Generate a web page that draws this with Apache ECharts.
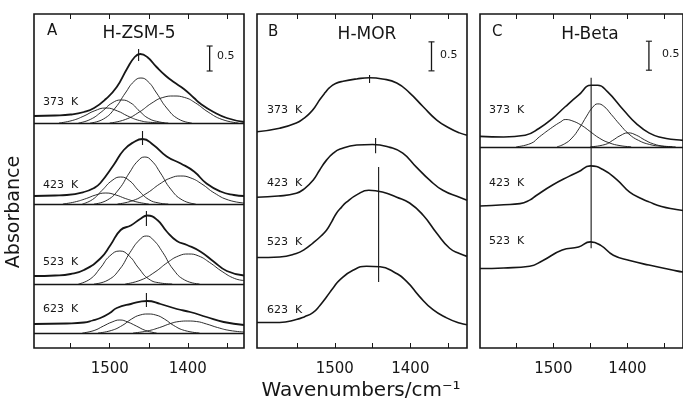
<!DOCTYPE html>
<html><head><meta charset="utf-8">
<script src="https://cdn.jsdelivr.net/npm/echarts@6/dist/echarts.min.js"></script>
<style>html,body{margin:0;padding:0;background:#fff}#c{width:683px;height:401px}</style>
</head><body><div id="c"></div>
<script>
// ---- shared axis values ----
const tickValues = [1350, 1400, 1450, 1500, 1550];
const tickLabelValues = [1400, 1500];
const xTitle = 'Wavenumbers/cm⁻¹';
const yTitle = 'Absorbance';

// ---- Panel A : H-ZSM-5 ----
const titleA = 'H-ZSM-5';
const tempsA = ['373  K', '423  K', '523  K', '623  K'];
const offsetsA = [4.5, 2.88, 1.28, 0.30];
const envA373 = [[1597,0.14],[1570,0.15],[1550,0.17],[1533,0.22],[1520,0.30],[1505,0.48],[1491,0.72],[1478,1.08],[1468,1.32],[1461,1.38],[1452,1.32],[1440,1.12],[1428,0.94],[1418,0.82],[1405,0.68],[1392,0.50],[1384,0.39],[1367,0.22],[1350,0.10],[1328,0.02]];
const envA423 = [[1597,0.16],[1570,0.17],[1555,0.18],[1533,0.24],[1520,0.32],[1512,0.42],[1495,0.78],[1482,1.08],[1469,1.24],[1458,1.30],[1444,1.18],[1427,0.95],[1409,0.81],[1392,0.65],[1376,0.41],[1358,0.25],[1341,0.18],[1328,0.16]];
const envA523 = [[1597,0.16],[1570,0.17],[1550,0.20],[1533,0.28],[1512,0.51],[1499,0.78],[1486,1.08],[1473,1.17],[1461,1.30],[1452,1.37],[1439,1.28],[1427,1.05],[1414,0.86],[1401,0.78],[1384,0.65],[1367,0.45],[1350,0.26],[1328,0.17]];
const envA623 = [[1597,0.18],[1555,0.19],[1533,0.21],[1522,0.25],[1512,0.30],[1500,0.40],[1491,0.50],[1473,0.58],[1452,0.64],[1435,0.58],[1414,0.48],[1397,0.42],[1376,0.32],[1354,0.22],[1328,0.16]];
const compA373 = [
  [[1565,0],[1548,0.05],[1533,0.14],[1520,0.24],[1505,0.30],[1490,0.24],[1477,0.14],[1462,0.05],[1445,0.01],[1430,0]],
  [[1540,0],[1525,0.07],[1510,0.23],[1497,0.40],[1485,0.46],[1473,0.40],[1462,0.24],[1450,0.09],[1436,0.02],[1425,0]],
  [[1525,0],[1508,0.08],[1493,0.30],[1480,0.60],[1469,0.83],[1460,0.90],[1451,0.83],[1440,0.60],[1427,0.30],[1412,0.08],[1395,0]],
  [[1500,0],[1480,0.07],[1462,0.22],[1446,0.40],[1432,0.51],[1418,0.54],[1404,0.51],[1390,0.40],[1374,0.22],[1356,0.07],[1335,0]]
];
const compA423 = [
  [[1560,0],[1545,0.04],[1530,0.11],[1518,0.18],[1505,0.22],[1492,0.18],[1480,0.11],[1465,0.04],[1450,0]],
  [[1535,0],[1522,0.09],[1510,0.27],[1497,0.47],[1486,0.54],[1475,0.47],[1463,0.27],[1450,0.09],[1437,0.02],[1425,0]],
  [[1520,0],[1503,0.08],[1488,0.30],[1475,0.62],[1464,0.86],[1455,0.94],[1446,0.86],[1435,0.62],[1422,0.30],[1407,0.08],[1390,0]],
  [[1490,0],[1470,0.07],[1452,0.22],[1436,0.40],[1422,0.52],[1409,0.56],[1396,0.52],[1382,0.40],[1366,0.22],[1348,0.08],[1328,0.02]]
];
const compA523 = [
  [[1540,0],[1525,0.10],[1512,0.32],[1500,0.56],[1487,0.66],[1475,0.56],[1463,0.32],[1450,0.10],[1435,0.02],[1420,0]],
  [[1520,0],[1502,0.08],[1487,0.30],[1474,0.63],[1462,0.88],[1453,0.96],[1444,0.88],[1432,0.63],[1419,0.30],[1404,0.08],[1385,0]],
  [[1480,0],[1460,0.08],[1442,0.24],[1426,0.43],[1412,0.56],[1399,0.60],[1386,0.56],[1372,0.43],[1356,0.25],[1340,0.11],[1328,0.07]]
];
const compA623 = [
  [[1535,0],[1520,0.05],[1508,0.14],[1497,0.22],[1487,0.26],[1477,0.22],[1466,0.14],[1454,0.05],[1440,0]],
  [[1515,0],[1498,0.05],[1484,0.15],[1472,0.28],[1461,0.36],[1451,0.38],[1441,0.36],[1430,0.28],[1418,0.15],[1404,0.05],[1385,0]],
  [[1470,0],[1452,0.04],[1436,0.11],[1422,0.19],[1411,0.23],[1400,0.24],[1389,0.23],[1376,0.18],[1362,0.11],[1346,0.05],[1328,0.02]]
];
const peaksA = [[1463,5.74,5.98],[1458,4.06,4.34],[1453,2.44,2.74],[1453,0.82,1.10]];
const scaleBarA = [1372, 5.54, 6.04];

// ---- Panel B : H-MOR ----
const titleB = 'H-MOR';
const tempsB = ['373  K', '423  K', '523  K', '623  K'];
const offsetsB = [3.73, 2.60, 1.56, 0.44];
const specB373 = [[1603,0],[1573,0.06],[1551,0.15],[1540,0.24],[1533,0.32],[1526,0.43],[1520,0.55],[1513,0.67],[1507,0.76],[1499,0.83],[1489,0.87],[1471,0.91],[1454,0.93],[1437,0.91],[1418,0.84],[1401,0.67],[1383,0.43],[1365,0.20],[1348,0.06],[1335,-0.02],[1325,-0.06]];
const specB423 = [[1603,0],[1575,0.02],[1551,0.07],[1540,0.15],[1529,0.29],[1520,0.47],[1511,0.64],[1502,0.76],[1493,0.83],[1471,0.90],[1450,0.91],[1427,0.86],[1410,0.76],[1392,0.52],[1374,0.29],[1357,0.12],[1335,0],[1325,-0.05]];
const specB523 = [[1603,0],[1573,0.01],[1551,0.07],[1540,0.14],[1529,0.25],[1520,0.35],[1511,0.47],[1504,0.62],[1498,0.76],[1491,0.87],[1485,0.95],[1470,1.09],[1455,1.16],[1437,1.13],[1418,1.04],[1401,0.94],[1383,0.73],[1365,0.42],[1348,0.16],[1335,0.07],[1325,0.02]];
const specB623 = [[1603,0],[1573,0],[1551,0.05],[1540,0.10],[1529,0.17],[1520,0.29],[1511,0.44],[1502,0.60],[1493,0.74],[1476,0.90],[1458,0.97],[1440,0.96],[1423,0.88],[1405,0.71],[1388,0.45],[1370,0.22],[1352,0.08],[1335,-0.01],[1325,-0.04]];
const peaksB = [[1454,4.57,4.71],[1446,3.36,3.62],[1442,1.14,3.12]];
const scaleBarB = [1372, 4.78, 5.28];

// ---- Panel C : H-Beta ----
const titleC = 'H-Beta';
const tempsC = ['373  K', '423  K', '523  K'];
const offsetsC = [3.47, 2.45, 1.37];
const specC373 = [[1599,0.18],[1567,0.17],[1538,0.20],[1519,0.32],[1501,0.49],[1484,0.69],[1466,0.89],[1449,1.06],[1440,1.06],[1427,0.95],[1405,0.63],[1388,0.40],[1371,0.24],[1354,0.16],[1334,0.12],[1325,0.11]];
const specC423 = [[1599,0],[1567,0.02],[1545,0.04],[1532,0.10],[1523,0.18],[1501,0.36],[1479,0.51],[1466,0.59],[1450,0.69],[1432,0.62],[1414,0.45],[1397,0.24],[1380,0.12],[1371,0.07],[1354,-0.01],[1334,-0.06],[1325,-0.08]];
const specC523 = [[1599,0],[1567,0.01],[1532,0.04],[1514,0.14],[1488,0.32],[1466,0.37],[1450,0.46],[1436,0.40],[1419,0.23],[1397,0.14],[1371,0.06],[1334,-0.04],[1325,-0.06]];
const compC373 = [
  [[1550,0],[1530,0.06],[1519,0.17],[1501,0.34],[1490,0.43],[1484,0.47],[1475,0.45],[1462,0.37],[1450,0.26],[1438,0.15],[1425,0.07],[1410,0.02],[1395,0]],
  [[1495,0],[1485,0.05],[1475,0.15],[1465,0.32],[1455,0.53],[1447,0.68],[1440,0.74],[1432,0.70],[1422,0.56],[1410,0.38],[1398,0.22],[1385,0.11],[1370,0.04],[1355,0.01],[1340,0]],
  [[1450,0],[1430,0.04],[1420,0.11],[1410,0.19],[1399,0.24],[1388,0.20],[1377,0.12],[1365,0.05],[1350,0.01],[1335,0]]
];
const peaksC = [[1449,1.72,4.66]];
const scaleBarC = [1371, 4.79, 5.29];

// ---------------- build ----------------
const INK = '#161616';
const FONT = '"DejaVu Sans", "Liberation Sans", sans-serif';
const panels = [
  {left:34, xmin:1328, xmax:1597, ymax:6.68},
  {left:257, xmin:1325, xmax:1603, ymax:5.76},
  {left:480, xmin:1325, xmax:1599, ymax:5.76}
];
const grid = [], xAxis = [], yAxis = [], series = [];
panels.forEach((p, g) => {
  grid.push({left:p.left, top:14, width:210, height:334, show:true, borderColor:INK, borderWidth:1.6, backgroundColor:'transparent'});
  ['bottom','top'].forEach(pos => xAxis.push({
    gridIndex:g, type:'value', inverse:true, min:p.xmin, max:p.xmax, position:pos,
    axisLine:{show:false}, splitLine:{show:false},
    axisTick:{show:true, inside:true, length:5, customValues:tickValues, lineStyle:{color:INK, width:1}},
    axisLabel:{show:pos==='bottom', customValues:tickLabelValues, formatter:v => String(v),
      fontSize:15, color:INK, margin:14, fontFamily:FONT}
  }));
  yAxis.push({gridIndex:g, type:'value', min:0, max:p.ymax, show:false});
});
function shift(arr, off){ return arr.map(q => [q[0], Math.round((q[1]+off)*1000)/1000]); }
function ln(g, data, w, extra){
  return Object.assign({type:'line', xAxisIndex:2*g, yAxisIndex:g, data, symbol:'none', showSymbol:false,
    smooth:0.5, lineStyle:{color:INK, width:w}, silent:true, z:3}, extra||{});
}
function baseLine(off){
  return {silent:true, symbol:['none','none'], label:{show:false}, animation:false,
    lineStyle:{color:INK, width:1.3, type:'solid'}, data:[{yAxis:off}]};
}
function seg(g, pk, w){ return ln(g, [[pk[0],pk[1]],[pk[0],pk[2]]], w, {smooth:false}); }
function scaleBar(g, b){
  series.push(seg(g, b, 1.3));
  series.push({type:'scatter', xAxisIndex:2*g, yAxisIndex:g, data:[[b[0],b[1]],[b[0],b[2]]], symbol:'rect',
    symbolSize:[6,1.4], itemStyle:{color:INK}, silent:true});
}
// Panel A
[envA373, envA423, envA523, envA623].forEach((e,i) => series.push(ln(0, shift(e, offsetsA[i]), 1.8, {markLine: baseLine(offsetsA[i])})));
[compA373, compA423, compA523, compA623].forEach((cs,i) => cs.forEach(c => series.push(ln(0, shift(c, offsetsA[i]), 0.9))));
peaksA.forEach(pk => series.push(seg(0, pk, 1.1)));
scaleBar(0, scaleBarA);
// Panel B
[specB373, specB423, specB523, specB623].forEach((e,i) => series.push(ln(1, shift(e, offsetsB[i]), 1.6)));
peaksB.forEach(pk => series.push(seg(1, pk, 1.1)));
scaleBar(1, scaleBarB);
// Panel C
[specC373, specC423, specC523].forEach((e,i) => series.push(ln(2, shift(e, offsetsC[i]), 1.6, i===0 ? {markLine: baseLine(offsetsC[0])} : {})));
compC373.forEach(c => series.push(ln(2, shift(c, offsetsC[0]), 0.9)));
peaksC.forEach(pk => series.push(seg(2, pk, 1.1)));
scaleBar(2, scaleBarC);

// text
const txt = (x, y, text, font, align) => ({type:'text', x, y, silent:true,
  style:{text, font, fill:INK, textAlign:align||'left', textVerticalAlign:'middle', verticalAlign:'middle'}});
const graphic = [];
graphic.push(txt(47, 31, 'A', '15px '+FONT));
graphic.push(txt(139, 34, titleA, '17px '+FONT, 'center'));
graphic.push(txt(268, 32, 'B', '15px '+FONT));
graphic.push(txt(367, 35, titleB, '17px '+FONT, 'center'));
graphic.push(txt(492, 32, 'C', '15px '+FONT));
graphic.push(txt(590, 35, titleC, '17px '+FONT, 'center'));
graphic.push(txt(217, 56, '0.5', '11px '+FONT));
graphic.push(txt(440, 55, '0.5', '11px '+FONT));
graphic.push(txt(662, 54, '0.5', '11px '+FONT));
const labYA = [102, 185, 262, 309], labYB = [110, 183, 242, 310], labYC = [110, 183, 241];
tempsA.forEach((t,i) => graphic.push(txt(43, labYA[i], t, '11px '+FONT)));
tempsB.forEach((t,i) => graphic.push(txt(267, labYB[i], t, '11px '+FONT)));
tempsC.forEach((t,i) => graphic.push(txt(489, labYC[i], t, '11px '+FONT)));
graphic.push(txt(361, 391, xTitle, '20px '+FONT, 'center'));
graphic.push({type:'text', x:14, y:212, rotation:Math.PI/2, silent:true,
  style:{text:yTitle, font:'19px '+FONT, fill:INK, textAlign:'center', textVerticalAlign:'middle', verticalAlign:'middle'}});

const chart = echarts.init(document.getElementById('c'), null, {renderer:'canvas'});
chart.setOption({animation:false, backgroundColor:'#fff', grid, xAxis, yAxis, series, graphic});
</script></body></html>
